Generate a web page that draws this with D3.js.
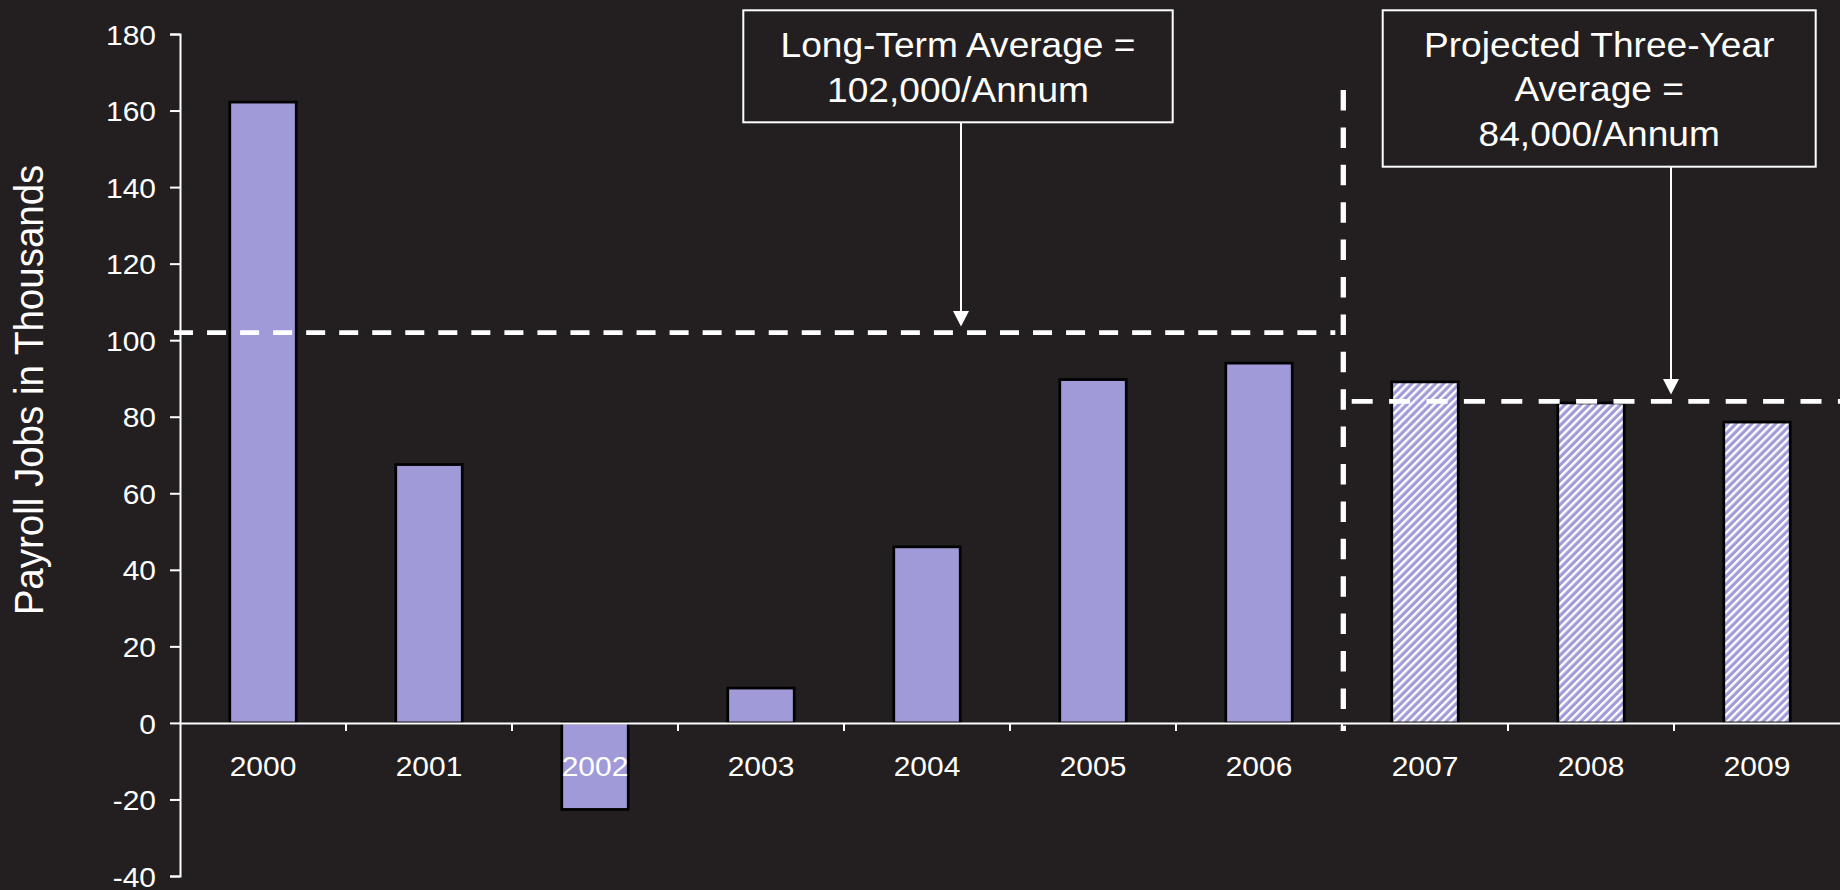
<!DOCTYPE html>
<html>
<head>
<meta charset="utf-8">
<script src="https://cdn.jsdelivr.net/npm/d3@7"></script>
<style>
  html, body { margin: 0; padding: 0; background: #231f20; overflow: hidden; }
  svg { display: block; }
</style>
</head>
<body>
<svg id="chart" width="1840" height="890"></svg>
<script>
// Annual payroll job growth (thousands), actual 2000-2006 and projected 2007-2009
const years = ["2000", "2001", "2002", "2003", "2004", "2005", "2006", "2007", "2008", "2009"];
const jobs = [162.2, 67.5, -22.6, 9.1, 46.0, 89.7, 94.0, 89.1, 83.6, 78.6];
const projectedYears = ["2007", "2008", "2009"];
const yTicks = [-40, -20, 0, 20, 40, 60, 80, 100, 120, 140, 160, 180];
const longTermAverage = 102;
const projectedAverage = 84;
const longTermLabel = ["Long-Term Average =", "102,000/Annum"];
const projectedLabel = ["Projected Three-Year", "Average =", "84,000/Annum"];
const yTitle = "Payroll Jobs in Thousands";

const W = 1840, H = 890;
const BG = "#231f20";
const BAR = "#a09ad9";
const INK = "#ffffff";
const FONT = "'Liberation Sans', Arial, Helvetica, sans-serif";
const STRETCH = 1.07;

const svg = d3.select("#chart");
svg.append("rect").attr("width", W).attr("height", H).attr("fill", BG);

// diagonal hatch for projected years
const HP = 5.6;
const pat = svg.append("defs").append("pattern")
  .attr("id", "hatch")
  .attr("patternUnits", "userSpaceOnUse")
  .attr("width", HP).attr("height", HP)
  .attr("patternTransform", "rotate(45)");
pat.append("rect").attr("width", HP).attr("height", HP).attr("fill", BAR);
pat.append("rect").attr("width", 2.4).attr("height", HP).attr("fill", "#ffffff");

const x = d3.scaleBand().domain(years).range([180, 1840]).paddingInner(0.6).paddingOuter(0.3);
const y = d3.scaleLinear().domain([-40, 180]).range([876, 34]);
const y0 = y(0);
const gapHalf = x.step() * x.paddingInner() / 2;

// bars
const rows = years.map((yr, i) => ({ yr, v: jobs[i], proj: projectedYears.includes(yr) }));
svg.append("g").selectAll("rect").data(rows).join("rect")
  .attr("x", d => x(d.yr))
  .attr("width", x.bandwidth())
  .attr("y", d => y(Math.max(0, d.v)))
  .attr("height", d => Math.abs(y(d.v) - y0))
  .attr("fill", d => d.proj ? "url(#hatch)" : BAR)
  .attr("stroke", "#000")
  .attr("stroke-width", 2.7);

// divider between actual and projected years
const divX = x(projectedYears[0]) - gapHalf + 1.3;

// average lines
svg.append("line")
  .attr("x1", 174).attr("x2", divX - 8)
  .attr("y1", y(longTermAverage)).attr("y2", y(longTermAverage))
  .attr("stroke", "#fff").attr("stroke-width", 4.8)
  .attr("stroke-dasharray", "19 14.04");

svg.append("line")
  .attr("x1", divX + 8.4).attr("x2", W)
  .attr("y1", y(projectedAverage)).attr("y2", y(projectedAverage))
  .attr("stroke", "#fff").attr("stroke-width", 4.8)
  .attr("stroke-dasharray", "21 16.4");

svg.append("line")
  .attr("x1", divX).attr("x2", divX)
  .attr("y1", 90).attr("y2", 731)
  .attr("stroke", "#fff").attr("stroke-width", 5.3)
  .attr("stroke-dasharray", "20.5 16.9");

// y axis
const yAxis = d3.axisLeft(y).tickValues(yTicks).tickSize(10).tickSizeOuter(10)
  .tickFormat(d => String(d));
const gy = svg.append("g").attr("transform", "translate(180,0)").call(yAxis);
gy.select(".domain").attr("stroke", INK).attr("stroke-width", 2);
gy.selectAll(".tick line").attr("stroke", INK).attr("stroke-width", 2);
gy.selectAll(".tick text")
  .attr("fill", INK).attr("font-size", 28).attr("font-family", FONT)
  .attr("x", -24 / STRETCH).attr("dy", "0.36em")
  .attr("transform", `scale(${STRETCH},1)`);

// x axis
const xAxis = d3.axisBottom(x).tickSize(0).tickSizeOuter(0).tickPadding(33);
const gx = svg.append("g").attr("transform", `translate(0,${y0})`).call(xAxis);
gx.select(".domain").attr("stroke", INK).attr("stroke-width", 2);
gx.selectAll(".tick text")
  .attr("fill", INK).attr("font-size", 28).attr("font-family", FONT)
  .attr("transform", `scale(${STRETCH},1)`);
gx.selectAll("line.sep").data(years.slice(1)).join("line")
  .attr("class", "sep")
  .attr("x1", d => x(d) - gapHalf).attr("x2", d => x(d) - gapHalf)
  .attr("y1", 0).attr("y2", 8)
  .attr("stroke", INK).attr("stroke-width", 2);

// y axis title
svg.append("text")
  .attr("transform", `translate(43.3,390) scale(${STRETCH},1) rotate(-90)`)
  .attr("text-anchor", "middle")
  .attr("fill", INK).attr("font-size", 38.5).attr("font-family", FONT)
  .text(yTitle);

// callout boxes with arrows
function callout(box, lines, arrowX, tipY) {
  const g = svg.append("g");
  g.append("rect")
    .attr("x", box.x).attr("y", box.y).attr("width", box.w).attr("height", box.h)
    .attr("fill", BG).attr("stroke", "#fff").attr("stroke-width", 2);
  const cx = box.x + box.w / 2;
  lines.forEach((t, i) => {
    g.append("text")
      .attr("transform", `translate(${cx},${box.firstBaseline + i * box.lineGap}) scale(1.06,1)`)
      .attr("text-anchor", "middle")
      .attr("fill", "#fff").attr("font-size", 35).attr("font-family", FONT)
      .text(t);
  });
  const head = 15.5, hw = 8;
  g.append("line")
    .attr("x1", arrowX).attr("x2", arrowX)
    .attr("y1", box.y + box.h).attr("y2", tipY - head + 1)
    .attr("stroke", "#fff").attr("stroke-width", 2);
  g.append("path")
    .attr("d", `M${arrowX - hw},${tipY - head}L${arrowX + hw},${tipY - head}L${arrowX},${tipY}Z`)
    .attr("fill", "#fff");
}

callout({ x: 743.3, y: 10.3, w: 429.4, h: 112, firstBaseline: 56.7, lineGap: 45 },
  longTermLabel, 961, y(longTermAverage) - 6);
callout({ x: 1382.7, y: 10.3, w: 433, h: 156.4, firstBaseline: 56.7, lineGap: 44.5 },
  projectedLabel, 1671, y(projectedAverage) - 7);
</script>
</body>
</html>
